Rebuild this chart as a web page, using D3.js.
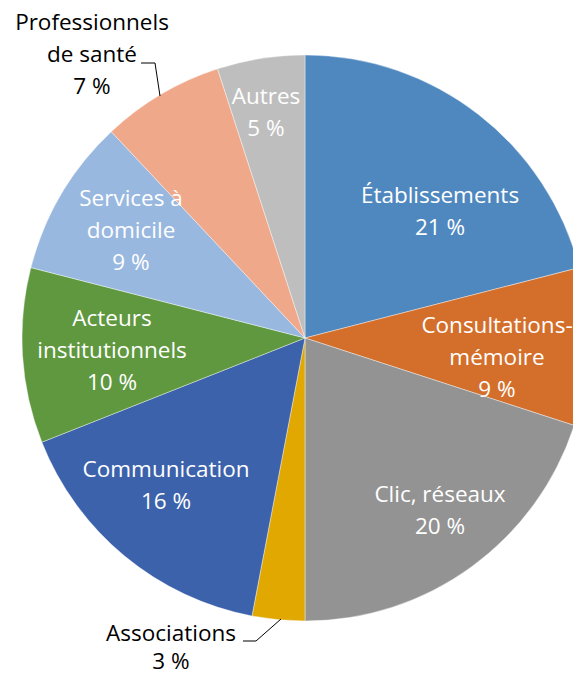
<!DOCTYPE html>
<html>
<head>
<meta charset="utf-8">
<script src="https://cdn.jsdelivr.net/npm/d3@7"></script>
<style>
  body { margin: 0; background: #fff; }
  svg { display: block; }
</style>
</head>
<body>
<div id="chart"></div>
<script>
// slices, clockwise from the top
var categories = ['Établissements', 'Consultations-mémoire', 'Clic, réseaux', 'Associations',
  'Communication', 'Acteurs institutionnels', 'Services à domicile', 'Professionnels de santé', 'Autres'];
var values = [21, 9, 20, 3, 16, 10, 9, 7, 5];
var labelLines = [
  ['Établissements'], ['Consultations-', 'mémoire'], ['Clic, réseaux'], ['Associations'],
  ['Communication'], ['Acteurs', 'institutionnels'], ['Services à', 'domicile'],
  ['Professionnels', 'de santé'], ['Autres']
];
var colors = ['#4f88bf', '#d46f2b', '#939393', '#e0a800', '#3c62ac', '#5f983f', '#99b8e0', '#f0a88a', '#bebebe'];

var w = 573, h = 678;
var cx = 305, cy = 338, r = 283;

var svg = d3.select('#chart').append('svg')
    .attr('width', w)
    .attr('height', h)
    .style('font-family', '"Open Sans", Lato, sans-serif')
    .style('font-size', '22.5px');

var pie = d3.pie().sort(null).value(function (d) { return d; });
var arc = d3.arc().innerRadius(0).outerRadius(r);
var arcs = pie(values);

var g = svg.append('g').attr('transform', 'translate(' + cx + ',' + cy + ')');

g.selectAll('path.slice')
    .data(arcs)
  .enter().append('path')
    .attr('class', 'slice')
    .attr('d', arc)
    .style('fill', function (d, i) { return colors[i]; })
    .style('stroke', '#fff')
    .style('stroke-width', 0.4);

// label anchor (centre of the first line), relative to pie centre
// outside labels for the two small slices
var labelPos = [
  [135, -143], [192, -13], [135, 156], [-134, 295],
  [-139, 131], [-193, -20], [-174, -140], [-213, -316], [-39, -242]
];
var outside = [false, false, false, true, false, false, false, true, false];
var lineH = 32;

var labels = g.selectAll('text.lbl')
    .data(arcs)
  .enter().append('text')
    .attr('class', 'lbl')
    .attr('text-anchor', 'middle')
    .style('fill', function (d, i) { return outside[i] ? '#000' : '#fff'; })
    .attr('transform', function (d, i) {
      return 'translate(' + labelPos[i][0] + ',' + labelPos[i][1] + ')';
    });

labels.each(function (d, i) {
  var t = d3.select(this);
  var lines = labelLines[i].concat([values[i] + ' %']);
  lines.forEach(function (s, k) {
    t.append('tspan')
        .attr('x', 0)
        .attr('y', k * (i === 3 ? 28 : lineH))
        .attr('dy', '0.35em')
        .text(s);
  });
});

// leader lines for outside labels
var leaders = [
  [[141 - cx, 63 - cy], [155 - cx, 63 - cy], [160 - cx, 96 - cy]],
  [[243 - cx, 641 - cy], [256 - cx, 641 - cy], [281 - cx, 619 - cy]]
];
g.selectAll('path.leader')
    .data(leaders)
  .enter().append('path')
    .attr('class', 'leader')
    .attr('d', d3.line())
    .style('fill', 'none')
    .style('stroke', '#000')
    .style('stroke-width', 1);
</script>
</body>
</html>
